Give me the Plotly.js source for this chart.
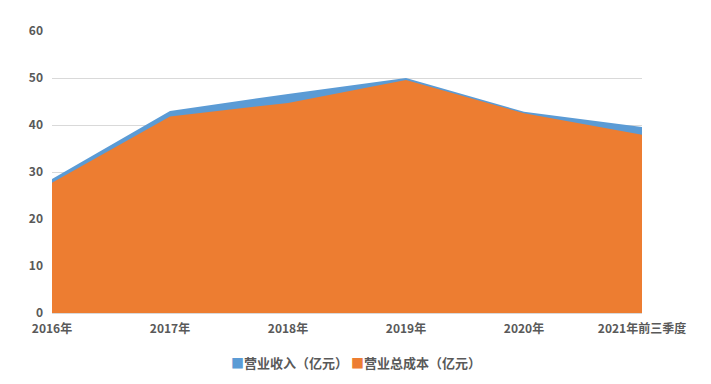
<!DOCTYPE html>
<html><head><meta charset="utf-8">
<script src="https://cdn.plot.ly/plotly-3.0.1.min.js"></script>
<style>html,body{margin:0;padding:0;background:#fff;}#chart{width:711px;height:384px;}</style>
</head><body><div id="chart"></div>
<script>
const categories = ["2016年","2017年","2018年","2019年","2020年","2021年前三季度"];
const revenue = [28.5, 43.0, 46.6, 50.0, 42.8, 39.6];
const totalCost = [27.7, 41.8, 44.7, 49.6, 42.5, 37.9];
const seriesNames = ["营业收入（亿元）","营业总成本（亿元）"];
const colors = ["#5B9BD5","#ED7D31"];
const yTicks = [0,10,20,30,40,50,60];

const font = "'Noto Sans CJK SC', 'DejaVu Sans', sans-serif";
const traces = [
  {x: categories, y: revenue, name: seriesNames[0], type: "scatter", mode: "none", fill: "tozeroy", fillcolor: colors[0], showlegend: false, hoverinfo: "x+y"},
  {x: categories, y: totalCost, name: seriesNames[1], type: "scatter", mode: "none", fill: "tozeroy", fillcolor: colors[1], showlegend: false, hoverinfo: "x+y"}
];
const layout = {
  width: 711, height: 384,
  margin: {l: 52, r: 69, t: 31, b: 71},
  paper_bgcolor: "#fff", plot_bgcolor: "#fff",
  font: {family: font, color: "#595959", size: 12},
  xaxis: {type: "category", range: [0, categories.length - 1], showgrid: false, zeroline: false,
    showline: true, linecolor: "#d9d9d9", linewidth: 1, ticks: "", ticklen: 0, ticklabelstandoff: 5,
    tickfont: {family: font, size: 12, color: "#595959", weight: "bold"}},
  yaxis: {range: [0, 60], tickvals: yTicks, showgrid: true, gridcolor: "#d9d9d9", gridwidth: 1,
    zeroline: false, showline: false, ticks: "", ticklabelstandoff: 8,
    tickfont: {family: font, size: 12, color: "#595959", weight: "bold"}},
  annotations: [{
    xref: "paper", yref: "paper", x: (356-52)/590, y: -(362-313)/282, xanchor: "center", yanchor: "middle",
    showarrow: false, font: {family: font, size: 13, color: "#595959", weight: "bold"},
    text: '<span style="color:' + colors[0] + '">■</span>' + seriesNames[0] + ' <span style="color:' + colors[1] + '">■</span>' + seriesNames[1]
  }]
};
Plotly.newPlot("chart", traces, layout, {displayModeBar: false, staticPlot: true});
</script></body></html>
